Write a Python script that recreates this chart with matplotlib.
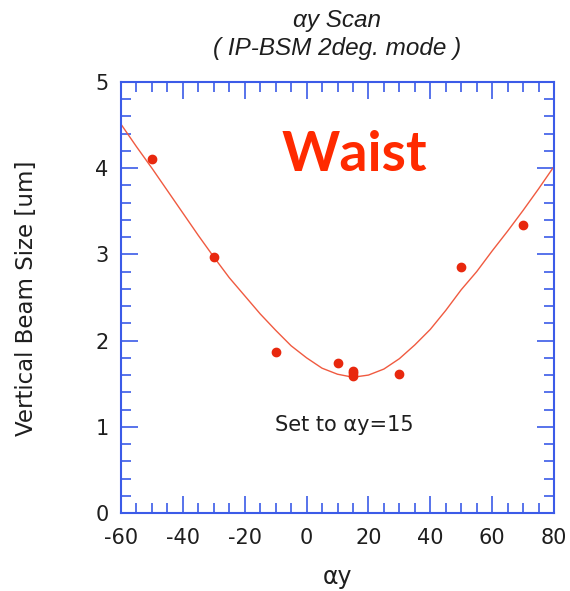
import numpy as np
import matplotlib
matplotlib.use("Agg")
import matplotlib.pyplot as plt
from matplotlib.ticker import MultipleLocator

plt.rcParams["axes.unicode_minus"] = False

# measured beam size vs alpha_y knob
alpha_pts = [-50, -30, -10, 10, 15, 15, 15, 30, 50, 70]
size_pts = [4.11, 2.97, 1.87, 1.74, 1.65, 1.62, 1.59, 1.61, 2.85, 3.34]

# fit curve, every 5 units
alpha_fit = [-60, -55, -50, -45, -40, -35, -30, -25, -20, -15, -10, -5, 0, 5, 10,
             15, 20, 25, 30, 35, 40, 45, 50, 55, 60, 65, 70, 75, 80]
size_fit = [4.51, 4.25, 4.00, 3.74, 3.48, 3.22, 2.97, 2.73, 2.52, 2.31, 2.12, 1.94, 1.80,
            1.68, 1.61, 1.575, 1.60, 1.67, 1.79, 1.95, 2.13, 2.35, 2.59, 2.80, 3.04,
            3.27, 3.51, 3.76, 4.02]

xticks = [-60, -40, -20, 0, 20, 40, 60, 80]
yticks = [0, 1, 2, 3, 4, 5]

blue = "#3b5be8"
red = "#e8280e"
ink = "#1e1e1e"

fig = plt.figure(figsize=(5.70, 5.91), dpi=100)
ax = fig.add_axes([121 / 570, 1 - 513 / 591, 433 / 570, 431 / 591])

ax.plot(alpha_fit, size_fit, color="#f05a40", lw=1.0)
ax.plot(alpha_pts, size_pts, "o", color=red, ms=6, mec=red)

ax.set_xlim(-60, 80)
ax.set_ylim(0, 5)
ax.set_xticks(xticks)
ax.set_yticks(yticks)
ax.xaxis.set_minor_locator(MultipleLocator(5))
ax.yaxis.set_minor_locator(MultipleLocator(0.2))
ax.tick_params(which="both", direction="in", top=True, right=True, color=blue, width=1.2,
               labelsize=15, labelcolor=ink)
ax.tick_params(axis="x", pad=11)
ax.tick_params(axis="y", pad=9)
ax.tick_params(which="major", length=12)
ax.tick_params(which="minor", length=7)
for s in ax.spines.values():
    s.set_color(blue)
    s.set_linewidth(1.5)

fig.text(337, 591 - 577, "\u03b1y", transform=None, ha="center", va="center",
         fontsize=17, color=ink)
fig.text(27, 591 - 298, "Vertical Beam Size [um]", transform=None, ha="center",
         va="center", rotation=90, fontsize=16.5, color=ink)

fig.text(337, 591 - 21, "\u03b1y Scan", transform=None, ha="center", va="center",
         fontsize=17.5, style="italic", family="Liberation Sans", color=ink)
fig.text(337, 591 - 48, "( IP-BSM 2deg. mode )", transform=None, ha="center", va="center",
         fontsize=17.5, style="italic", family="Liberation Sans", color=ink)

ax.text(0.54, 0.83, "Waist", transform=ax.transAxes, ha="center", va="center",
        fontsize=40, fontweight="bold", color="#ff2a00", family="Lato")
ax.text(0.515, 0.205, "Set to \u03b1y=15", transform=ax.transAxes, ha="center", va="center",
        fontsize=15, color=ink)

fig.savefig("out.png", dpi=100)
